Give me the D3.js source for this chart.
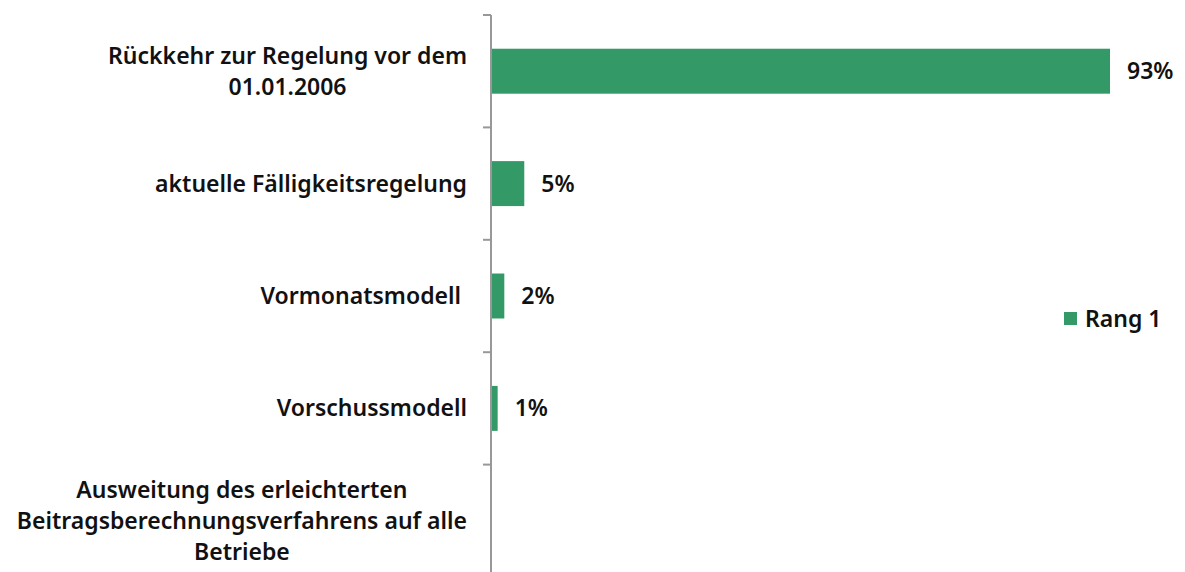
<!DOCTYPE html>
<html><head><meta charset="utf-8">
<script src="https://cdn.jsdelivr.net/npm/d3@7"></script>
<style>
html,body{margin:0;padding:0;background:#fff;}
svg{display:block;}
text{font-family:"Noto Sans",sans-serif;font-weight:600;fill:#111;}
</style></head>
<body>
<svg id="chart" width="1185" height="572"></svg>
<script>
const categories = [
  ["Rückkehr zur Regelung vor dem", "01.01.2006"],
  ["aktuelle Fälligkeitsregelung"],
  ["Vormonatsmodell "],
  ["Vorschussmodell"],
  ["Ausweitung des erleichterten", "Beitragsberechnungsverfahrens auf alle", "Betriebe"]
];
const values = [93, 5, 2, 1, null];
const seriesName = "Rang 1";

(function () {
const svg = d3.select("#chart");
const keys = categories.map((c, i) => "c" + i);
const axisX = 491, plotTop = 15, plotBottom = 577;
const y = d3.scaleBand().domain(keys).range([plotTop, plotBottom]).paddingInner(0.6).paddingOuter(0.3);
const x = d3.scaleLinear().domain([0, 100]).range([axisX, axisX + 665.6]);
const color = "#339966";
const fs = 23;
const data = values.map((v, i) => ({v, k: keys[i]})).filter(d => d.v != null);

svg.selectAll("rect.bar").data(data)
  .enter().append("rect").attr("class", "bar")
  .attr("x", x(0)).attr("y", d => y(d.k))
  .attr("width", d => x(d.v) - x(0)).attr("height", y.bandwidth())
  .attr("fill", color);

svg.selectAll("text.val").data(data)
  .enter().append("text").attr("class", "val")
  .attr("x", d => x(d.v) + 17).attr("y", d => y(d.k) + y.bandwidth() / 2)
  .attr("dy", "0.35em").style("font-size", fs + "px")
  .text(d => d.v + "%");

const g = svg.append("g");
g.append("line").attr("x1", axisX).attr("x2", axisX).attr("y1", plotTop).attr("y2", plotBottom)
  .attr("stroke", "#989898").attr("stroke-width", 2);
const step = y.step();
const tickYs = d3.range(keys.length + 1).map(i => plotTop + i * step);
g.selectAll("line.tick").data(tickYs).enter().append("line")
  .attr("x1", axisX - 8).attr("x2", axisX).attr("y1", d => d).attr("y2", d => d)
  .attr("stroke", "#989898").attr("stroke-width", 2);

const labelRight = 467, lineH = 31;
categories.forEach((lines, i) => {
  const cy = y(keys[i]) + y.bandwidth() / 2;
  const t = svg.append("text").style("font-size", fs + "px").style("white-space", "pre")
    .attr("text-anchor", "middle");
  const n = lines.length;
  const spans = lines.map((ln, j) => t.append("tspan").attr("y", cy + (j - (n - 1) / 2) * lineH).attr("dy", "0.35em").text(ln));
  const w = d3.max(spans, s => s.node().getComputedTextLength());
  spans.forEach(s => s.attr("x", labelRight - w / 2));
});

const lg = svg.append("g").attr("transform", "translate(1064,312)");
lg.append("rect").attr("width", 13).attr("height", 13).attr("fill", color);
lg.append("text").attr("x", 21).attr("y", 6.5).attr("dy", "0.35em").style("font-size", fs + "px").text(seriesName);
})();
</script>
</body></html>
